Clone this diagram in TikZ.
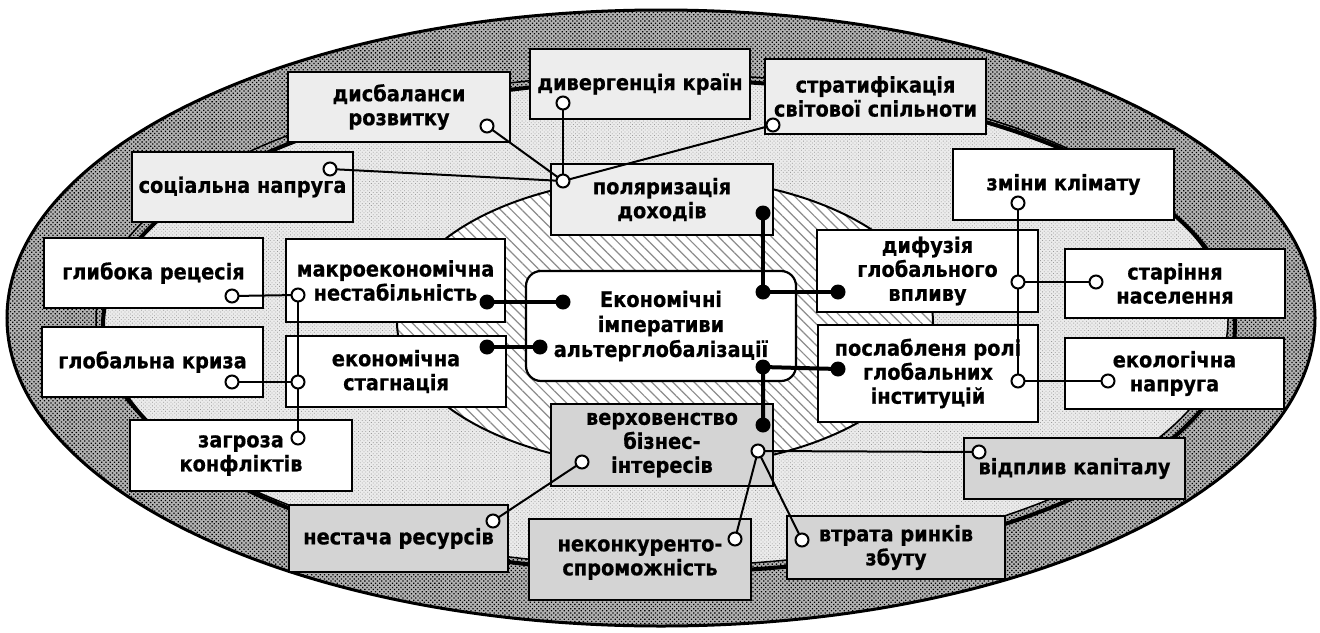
\documentclass[tikz,border=0pt]{standalone}
\usepackage{fontspec}
\setmainfont{DejaVu Sans}[FakeStretch=0.9, BoldFeatures={FakeBold=0.6}]
\usetikzlibrary{patterns.meta}
\begin{document}
\begin{tikzpicture}[x=1pt,y=-1pt,
  bx/.style={draw, line width=2.2pt, align=center, inner sep=1pt,
    font=\bfseries\fontsize{21.5}{24}\selectfont},
  lightbox/.style={bx, fill=black!7},
  whitebox/.style={bx, fill=white},
  graybox/.style={bx, fill=black!17},
  conn/.style={line width=2pt},
  tconn/.style={line width=4pt},
  oc/.style={circle, draw, fill=white, line width=2pt, inner sep=0pt, minimum size=13pt},
  fc/.style={circle, fill=black, inner sep=0pt, minimum size=15pt},
  darkpat/.style={pattern={Dots[radius=0.9pt,distance=3pt,angle=45]}, pattern color=black},
  lightpat/.style={pattern={Dots[radius=0.55pt,distance=2.6pt,angle=45]}, pattern color=black!40},
  hatchpat/.style={pattern={Lines[angle=-45,distance=7.5pt,line width=1.2pt]}, pattern color=black!45}
]
\useasboundingbox (0,0) rectangle (1320,632);
% outer ellipse
\fill[black!30] (661,318) ellipse [x radius=654, y radius=308];
\fill[darkpat] (661,318) ellipse [x radius=654, y radius=308];
\draw[line width=3pt] (661,318) ellipse [x radius=654, y radius=308];
% inner light region (intersection of ring ellipses)
\begin{scope}
  \clip (662,320) ellipse [x radius=566, y radius=246];
  \fill[black!8] (669,326) ellipse [x radius=566, y radius=246];
  \fill[lightpat] (669,326) ellipse [x radius=566, y radius=246];
\end{scope}
\draw[line width=1.5pt] (662,320) ellipse [x radius=566, y radius=246];
\draw[line width=4pt] (669,326) ellipse [x radius=566, y radius=246];
% hatched ellipse
\fill[white] (665,322) ellipse [x radius=268, y radius=145];
\fill[hatchpat] (665,322) ellipse [x radius=268, y radius=145];
\draw[line width=2pt] (665,322) ellipse [x radius=268, y radius=145];

% boxes
\node[lightbox, minimum width=222pt, minimum height=70pt] (disb) at (399,107) {дисбаланси\\розвитку};
\node[lightbox, minimum width=220pt, minimum height=70pt] (div) at (640,84) {дивергенція країн};
\node[lightbox, minimum width=221pt, minimum height=75pt] (strat) at (875.5,96.5) {стратифікація\\світової спільноти};
\node[lightbox, minimum width=221pt, minimum height=70pt] (soc) at (242.5,187) {соціальна напруга};
\node[lightbox, minimum width=222pt, minimum height=71pt] (pol) at (662,199.5) {поляризація\\доходів};
\node[whitebox, minimum width=221pt, minimum height=71pt] (clim) at (1063.5,184.5) {зміни клімату};
\node[whitebox, minimum width=219pt, minimum height=70pt] (glyb) at (153.5,273) {глибока рецесія};
\node[whitebox, minimum width=219pt, minimum height=83pt] (mak) at (395.5,280.5) {макроекономічна\\нестабільність};
\node[whitebox, minimum width=220pt, minimum height=71pt] (stag) at (396,371.5) {економічна\\стагнація};
\node[whitebox, minimum width=221pt, minimum height=70pt] (kryz) at (152.5,362) {глобальна криза};
\node[whitebox, minimum width=222pt, minimum height=71pt] (zagr) at (241,455.5) {загроза\\конфліктів};
\node[bx, fill=white, rounded corners=15pt, minimum width=270pt, minimum height=110pt, font=\bfseries\fontsize{21.5}{25}\selectfont] (core) at (661,326) {Економічні\\імперативи\\альтерглобалізації};
\node[whitebox, minimum width=221pt, minimum height=82pt] (dyf) at (927.5,271) {дифузія\\глобального\\впливу};
\node[whitebox, minimum width=220pt, minimum height=69pt] (star) at (1175,283.5) {старіння\\населення};
\node[whitebox, minimum width=220pt, minimum height=97pt] (posl) at (928,373.5) {послабленя ролі\\глобальних\\інституцій};
\node[whitebox, minimum width=219pt, minimum height=71pt] (ekol) at (1174.5,373.5) {екологічна\\напруга};
\node[graybox, minimum width=222pt, minimum height=82pt] (verkh) at (662,445) {верховенство\\бізнес-\\інтересів};
\node[graybox, minimum width=219pt, minimum height=67pt] (nest) at (398.5,538.5) {нестача ресурсів};
\node[graybox, minimum width=222pt, minimum height=81pt] (nekon) at (640,559.5) {неконкуренто-\\спроможність};
\node[graybox, minimum width=218pt, minimum height=63pt] (vtr) at (896,547.5) {втрата ринків\\збуту};
\node[graybox, minimum width=221pt, minimum height=61pt] (vidp) at (1074.5,468.5) {відплив капіталу};

% connection points
\coordinate (pDisb) at (487,126);
\coordinate (pDiv) at (563,103);
\coordinate (pStrat) at (773,125);
\coordinate (pSoc) at (330,169);
\coordinate (pPol) at (563,181);
\coordinate (qPol) at (763,213);
\coordinate (pClim) at (1018,203);
\coordinate (pGlyb) at (232,296);
\coordinate (pMak) at (298,295);
\coordinate (qMak) at (487,302);
\coordinate (qCore1) at (563,302);
\coordinate (qCore2) at (763,292);
\coordinate (qDyf) at (838,292);
\coordinate (pDyf) at (1018,282);
\coordinate (pStar) at (1096,282);
\coordinate (qStag) at (487,347);
\coordinate (qCore3) at (540,347);
\coordinate (pStag) at (298,382);
\coordinate (pKryz) at (232,382);
\coordinate (qCore4) at (763,367);
\coordinate (qPosl) at (838,369);
\coordinate (pPosl) at (1018,381);
\coordinate (pEkol) at (1108,381);
\coordinate (pZagr) at (298,438);
\coordinate (qVerkh) at (763,425);
\coordinate (pVerkh) at (758,451);
\coordinate (pVerkh2) at (582,462);
\coordinate (pVidp) at (979,452);
\coordinate (pNest) at (493,521);
\coordinate (pNekon) at (735,539);
\coordinate (pVtr) at (802,540);

% thin connectors
\draw[conn] (pSoc) -- (pPol);
\draw[conn] (pDisb) -- (pPol);
\draw[conn] (pDiv) -- (pPol);
\draw[conn] (pStrat) -- (pPol);
\draw[conn] (pGlyb) -- (pMak);
\draw[conn] (pKryz) -- (pStag);
\draw[conn] (pMak) -- (pZagr);
\draw[conn] (pClim) -- (pPosl);
\draw[conn] (pStar) -- (pDyf);
\draw[conn] (pEkol) -- (pPosl);
\draw[conn] (pVerkh) -- (pVidp);
\draw[conn] (pVerkh) -- (pNekon);
\draw[conn] (pVerkh) -- (pVtr);
\draw[conn] (pVerkh2) -- (pNest);
% thick connectors
\draw[tconn] (qPol) -- (qCore2) -- (qDyf);
\draw[tconn] (qMak) -- (qCore1);
\draw[tconn] (qStag) -- (qCore3);
\draw[tconn] (qPosl) -- (qCore4) -- (qVerkh);

% open circles
\foreach \p in {pDisb,pDiv,pStrat,pSoc,pPol,pClim,pGlyb,pMak,pDyf,pStar,pStag,pKryz,pPosl,pEkol,pZagr,pVerkh,pVerkh2,pVidp,pNest,pNekon,pVtr}
  \node[oc] (o\p) at (\p) {};
% filled dots
\foreach \p in {qPol,qMak,qCore1,qCore2,qDyf,qStag,qCore3,qCore4,qPosl,qVerkh}
  \node[fc] (f\p) at (\p) {};
\end{tikzpicture}
\end{document}
